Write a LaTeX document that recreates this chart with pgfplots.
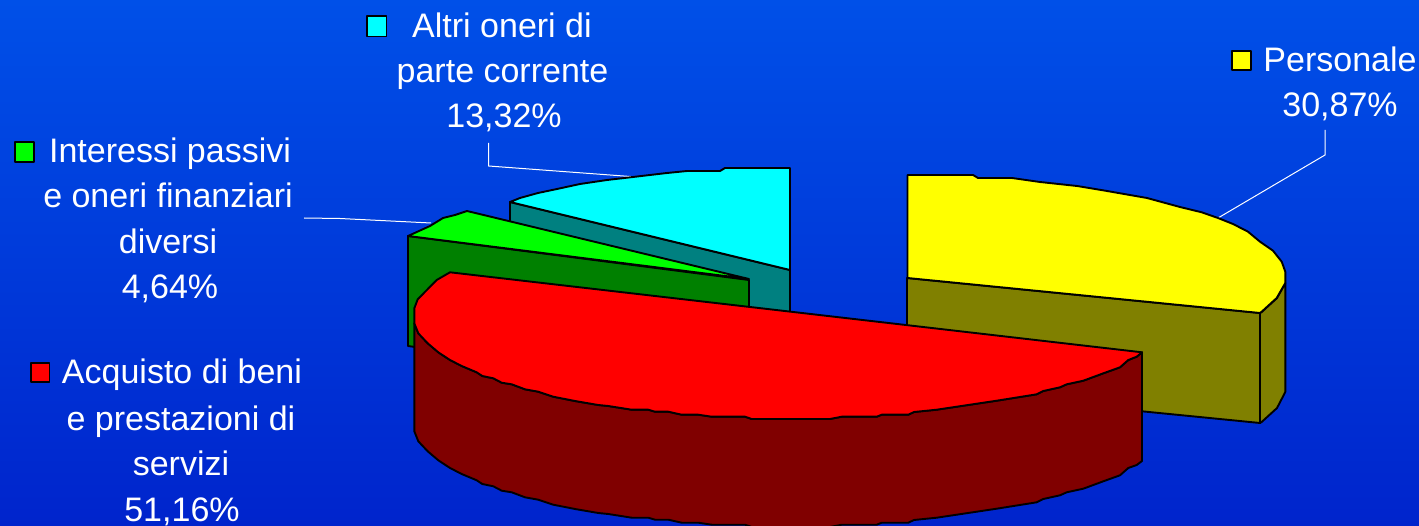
\documentclass[border=0pt]{standalone}
\usepackage{pgfplots}
\pgfplotsset{compat=1.18}
\usepackage{fontspec}
\setmainfont{Liberation Sans}
\definecolor{bgtop}{RGB}{0,80,232}
\definecolor{bgbot}{RGB}{0,36,204}
\definecolor{ccyan}{RGB}{0,255,255}
\definecolor{cgreen}{RGB}{0,255,0}
\definecolor{cyellow}{RGB}{255,255,0}
\definecolor{cred}{RGB}{255,0,0}
\definecolor{cyanside}{RGB}{0,128,128}
\definecolor{greenside}{RGB}{0,128,0}
\definecolor{redside}{RGB}{128,0,0}
\definecolor{yellowside}{RGB}{128,128,0}
\tikzset{
  slice/.style={draw=black, line width=1.9pt, line join=round},
  lead/.style={draw=white, line width=1pt},
  txt/.style={text=white, anchor=base, inner sep=0pt, font=\fontsize{34}{40}\selectfont},
}
\begin{document}
\begin{tikzpicture}
\begin{axis}[
  scale only axis,
  width=1419pt, height=526pt,
  xmin=0, xmax=1419,
  ymin=0, ymax=526,
  y dir=reverse,
  axis lines=none,
  ticks=none,
  clip mode=individual,
]
% background
\path[top color=bgtop, bottom color=bgbot] (axis cs:0,0) rectangle (axis cs:1419,526);

% leader lines
\addplot[lead] coordinates {(488.6,143)(488.6,166)(637,177)};
\addplot[lead] coordinates {(304,218)(340,218.5)(431,223)};
\addplot[lead] coordinates {(1325,130)(1325,155)(1218,218)};

% altri oneri (cyan)
\addplot[slice, fill=cyanside] coordinates {(510,202)(790,270)(790,320)(750,320)(510,222)} -- cycle;
\addplot[slice, fill=ccyan] coordinates {
  (510,202)(520,198)(538,193)(557,189)(580,184)(607,180)(633,177)(667,173)
  (687,171)(720,171)(725,168)(790,168)(790,270)} -- cycle;

% interessi (green)
\addplot[slice, fill=greenside] coordinates {(408,236)(749,280)(749,320)(415,347)(408,346)} -- cycle;
\addplot[slice, fill=cgreen] coordinates {
  (408,236)(430,226)(443,218)(455,215)(467,211)(749,279)} -- cycle;

% personale (yellow)
\addplot[slice, fill=yellowside] coordinates {(907,278)(1260,313)(1260,423)(907,388)} -- cycle;
\addplot[slice, fill=yellowside] coordinates {
  (1260,313)(1262,311.7)(1277,298)(1285.3,283)(1285.3,392)(1277,408)(1262,421.7)(1260,423)} -- cycle;
\addplot[slice, fill=cyellow] coordinates {
  (907.5,175)(973,175)(978,178)(1012,178)(1040,182)(1077,186)(1107,191)(1147,198)
  (1180,207)(1201.7,212.3)(1218,218)(1233,224)(1248,231.7)(1260,241.7)(1273,250.7)
  (1281.7,261.7)(1285.3,271.7)(1285.3,283)(1276.7,298)(1261.7,311.7)(1260,313)(907.5,278)} -- cycle;

% acquisto (red)
\addplot[slice, fill=redside] coordinates {
  (414.3,323.3)(418.3,333.3)(427.7,343.3)(438.3,352.3)(450,360)(461.7,366)(476.7,372.3)
  (482.3,376)(493.3,378.3)(501.7,382.7)(511.7,384.3)(525,389.3)(538.3,391.7)(553.3,396.7)
  (575,401)(598.3,405)(608.3,406)(631.7,409.7)(648.3,409.7)(655,411.7)(668.3,411.7)
  (681.7,414.7)(698.3,414.7)(711.7,416.7)(745,416.7)(751.7,419)(830,419)(841.7,416.7)
  (876.7,416.7)(881.7,414.7)(908.3,414.7)(914,412)(936.7,409.7)(970,404.7)(996.7,400.7)
  (1036.7,394.3)(1043.3,391)(1060,387.3)(1066.7,384.3)(1083.3,380.7)(1103.3,373.3)
  (1120,367.3)(1128.3,360)(1136.7,356.7)(1142,352.3)
  (1142,461)(1136.7,465)(1128.3,468)(1120,475.3)(1103.3,481.3)(1083.3,488.7)(1066.7,492.3)
  (1060,495.3)(1043.3,499)(1036.7,502.3)(996.7,508.7)(970,512.7)(936.7,517.7)(914,520)
  (908.3,522.7)(881.7,522.7)(876.7,524.7)(841.7,524.7)(830,527)(751.7,527)(745,524.7)
  (711.7,524.7)(698.3,522.7)(681.7,522.7)(668.3,519.7)(655,519.7)(648.3,517.7)(631.7,517.7)
  (608.3,514)(598.3,513)(575,509)(553.3,504.7)(538.3,499.7)(525,497.3)(511.7,492.3)
  (501.7,490.7)(493.3,486.3)(482.3,484)(476.7,480.3)(461.7,474)(450,468)(438.3,460.3)
  (427.7,451.3)(418.3,441.3)(414.3,431.3)} -- cycle;
\addplot[slice, fill=cred] coordinates {
  (450,272.3)(436.7,280)(417.7,299.3)(414.3,308.3)(414.3,323.3)(418.3,333.3)(427.7,343.3)
  (438.3,352.3)(450,360)(461.7,366)(476.7,372.3)(482.3,376)(493.3,378.3)(501.7,382.7)
  (511.7,384.3)(525,389.3)(538.3,391.7)(553.3,396.7)(575,401)(598.3,405)(608.3,406)
  (631.7,409.7)(648.3,409.7)(655,411.7)(668.3,411.7)(681.7,414.7)(698.3,414.7)(711.7,416.7)
  (745,416.7)(751.7,419)(830,419)(841.7,416.7)(876.7,416.7)(881.7,414.7)(908.3,414.7)
  (914,412)(936.7,409.7)(970,404.7)(996.7,400.7)(1036.7,394.3)(1043.3,391)(1060,387.3)
  (1066.7,384.3)(1083.3,380.7)(1103.3,373.3)(1120,367.3)(1128.3,360)(1136.7,356.7)(1142,352.3)} -- cycle;

% legend keys
\addplot[slice, fill=ccyan] coordinates {(367,16)(386.5,16)(386.5,36.5)(367,36.5)} -- cycle;
\addplot[slice, fill=cgreen] coordinates {(15,142)(34,142)(34,162)(15,162)} -- cycle;
\addplot[slice, fill=cyellow] coordinates {(1232,51)(1251,51)(1251,70)(1232,70)} -- cycle;
\addplot[slice, fill=cred] coordinates {(31,363)(49.5,363)(49.5,382)(31,382)} -- cycle;

% labels
\node[txt] at (axis cs:502,38) {Altri oneri di};
\node[txt] at (axis cs:502.5,83) {parte corrente};
\node[txt] at (axis cs:504,128) {13,32\%};
\node[txt] at (axis cs:170,163) {Interessi passivi};
\node[txt] at (axis cs:168,208) {e oneri finanziari};
\node[txt] at (axis cs:168,254) {diversi};
\node[txt] at (axis cs:170,299) {4,64\%};
\node[txt] at (axis cs:1340,72) {Personale};
\node[txt] at (axis cs:1340,117) {30,87\%};
\node[txt] at (axis cs:182,384) {Acquisto di beni};
\node[txt] at (axis cs:181,430) {e prestazioni di};
\node[txt] at (axis cs:181,475) {servizi};
\node[txt] at (axis cs:182,521) {51,16\%};
\end{axis}
\end{tikzpicture}
\end{document}
